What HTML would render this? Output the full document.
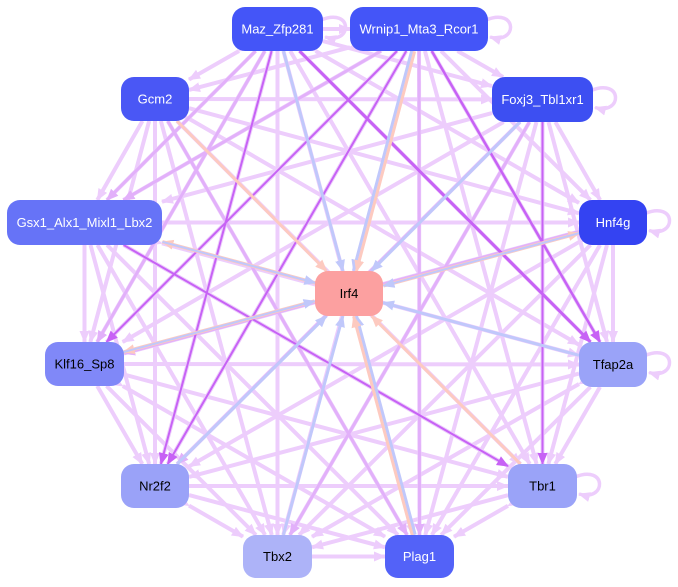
<!DOCTYPE html>
<html><head><meta charset="utf-8"><style>
html,body{margin:0;padding:0;background:#fff;width:678px;height:587px;overflow:hidden}
svg{display:block}
</style></head><body>
<svg id="s" width="678" height="587" viewBox="0 0 678 587" xmlns="http://www.w3.org/2000/svg">
<defs></defs>
<g id="e"></g><g id="n"></g>
</svg>
<script>
var N={
Maz:[232,7,91,44,"#4455f8","Maz_Zfp281","#fff"],
Wr:[350,7,138,44,"#4455f8","Wrnip1_Mta3_Rcor1","#fff"],
Gcm:[121,77,68,44,"#4a57f5","Gcm2","#fff"],
Fox:[492,77,101,45,"#3d4ff2","Foxj3_Tbl1xr1","#fff"],
Gsx:[7,200,155,45,"#6673f7","Gsx1_Alx1_Mixl1_Lbx2","#fff"],
Hnf:[579,200,68,45,"#3443f2","Hnf4g","#fff"],
Irf:[315,271,68,45,"#fca0a0","Irf4","#000"],
Klf:[45,342,79,44,"#8088f8","Klf16_Sp8","#000"],
Tfa:[579,342,68,45,"#9aa3f8","Tfap2a","#000"],
Nr:[121,464,68,44,"#9aa2f8","Nr2f2","#000"],
Tbr:[508,464,69,44,"#9aa3f8","Tbr1","#000"],
Tbx:[243,535,69,43,"#adb3f8","Tbx2","#000"],
Pl:[385,535,69,43,"#5362f8","Plag1","#fff"]};
var ns="http://www.w3.org/2000/svg";
function c(k){var a=N[k];return [a[0]+a[2]/2,a[1]+a[3]/2];}
function edge(k,p){var a=N[k],q=c(k);var dx=p[0]-q[0],dy=p[1]-q[1];var hw=a[2]/2,hh=a[3]/2;
var t=Math.min(dx?hw/Math.abs(dx):1e9,dy?hh/Math.abs(dy):1e9);return [q[0]+dx*t,q[1]+dy*t];}
var eg=document.getElementById("e");
var mk={};
function marker(col){if(mk[col])return mk[col];var id="m"+Object.keys(mk).length;
var m=document.createElementNS(ns,"marker");m.setAttribute("id",id);m.setAttribute("markerWidth",12);m.setAttribute("markerHeight",12);
m.setAttribute("refX",11);m.setAttribute("refY",5);m.setAttribute("orient","auto");m.setAttribute("markerUnits","userSpaceOnUse");m.setAttribute("viewBox","0 0 12 10");
var p=document.createElementNS(ns,"path");p.setAttribute("d","M0,0 L12,5 L0,10z");p.setAttribute("fill",col);m.appendChild(p);
document.querySelector("defs").appendChild(m);mk[col]=id;return id;}
function line(a,b,col,w,off,both){var pa=c(a),pb=c(b);var s=edge(a,pb),t=edge(b,pa);
var dx=t[0]-s[0],dy=t[1]-s[1],L=Math.hypot(dx,dy);var ox=-dy/L*(off||0),oy=dx/L*(off||0);
var l=document.createElementNS(ns,"line");l.setAttribute("x1",s[0]+ox);l.setAttribute("y1",s[1]+oy);l.setAttribute("x2",t[0]+ox);l.setAttribute("y2",t[1]+oy);
l.setAttribute("stroke",col);l.setAttribute("stroke-width",w);var id=marker(col);l.setAttribute("marker-end","url(#"+id+")");if(both)l.setAttribute("marker-start","url(#"+id+")");
eg.appendChild(l);}
var outer=["Maz","Wr","Gcm","Fox","Gsx","Hnf","Klf","Tfa","Nr","Tbr","Tbx","Pl"];
for(var i=0;i<outer.length;i++)for(var j=i+1;j<outer.length;j++){line(outer[i],outer[j],"#edcdfc",4,0,true);}
var mid=[["Wr","Gsx"],["Maz","Gsx"],["Fox","Nr"],["Hnf","Klf"],["Wr","Pl"],["Fox","Tbx"],["Maz","Klf"],["Gcm","Pl"]];
mid.forEach(function(d){line(d[0],d[1],"#e2b0fa",3,0);});
var dark=[["Maz","Tfa",3],["Wr","Tfa",2.5],["Gsx","Tbr",2],["Wr","Klf",2],["Maz","Nr",2],["Wr","Nr",2],["Fox","Tbr",2]];
dark.forEach(function(d){line(d[0],d[1],"#c762f5",d[2],0);});
[["Maz","b"],["Wr","bp"],["Fox","b"],["Tfa","b"],["Nr","b"],["Tbx","b"],["Pl","pb"],["Tbr","p"],["Gcm","p"]].forEach(function(d){
 if(d[1].indexOf("b")>=0)line(d[0],"Irf","#c0c8fb",3,d[1].length>1?1.5:0);
 if(d[1].indexOf("p")>=0)line(d[0],"Irf","#fdcac0",3,d[1].length>1?-1.5:0);});
["Gsx","Hnf","Klf"].forEach(function(k){line("Irf",k,"#fdcac0",3.5,1.5);line(k,"Irf","#c0c8fb",2,-1.5);});
["Maz","Wr","Fox","Hnf","Tfa","Tbr"].forEach(function(k){var a=N[k];var x=a[0]+a[2],y=a[1]+a[3]/2;
var p=document.createElementNS(ns,"path");p.setAttribute("d","M"+(x-2)+","+(y-9)+" C"+(x+30)+","+(y-22)+" "+(x+30)+","+(y+16)+" "+(x+2)+","+(y+8));
p.setAttribute("fill","none");p.setAttribute("stroke","#edcdfc");p.setAttribute("stroke-width",3.5);p.setAttribute("marker-end","url(#"+marker("#edcdfc")+")");eg.appendChild(p);});
var ng=document.getElementById("n");
for(var k in N){var a=N[k];var r=document.createElementNS(ns,"rect");r.setAttribute("x",a[0]);r.setAttribute("y",a[1]);r.setAttribute("width",a[2]);r.setAttribute("height",a[3]);
r.setAttribute("rx",13);r.setAttribute("fill",a[4]);ng.appendChild(r);
var t=document.createElementNS(ns,"text");t.setAttribute("x",a[0]+a[2]/2);t.setAttribute("y",a[1]+a[3]/2+4.5);t.setAttribute("text-anchor","middle");
t.setAttribute("font-family","Liberation Sans, sans-serif");t.setAttribute("font-size","13");t.setAttribute("fill",a[6]);t.textContent=a[5];ng.appendChild(t);}
</script>
</body></html>
